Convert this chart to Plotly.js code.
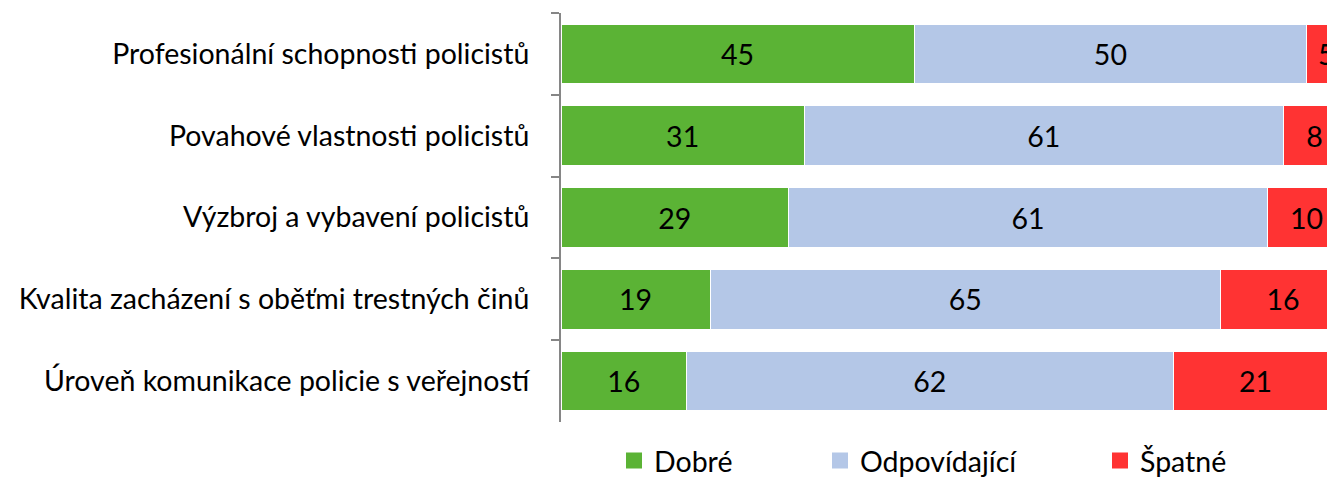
<!DOCTYPE html>
<html>
<head>
<meta charset="utf-8">
<script src="https://cdn.plot.ly/plotly-3.0.1.min.js"></script>
<style>html,body{margin:0;padding:0;background:#fff;}#chart{width:1327px;height:479px;}</style>
</head>
<body>
<div id="chart"></div>
<script>
const categories = [
  "Profesionální schopnosti policistů",
  "Povahové vlastnosti policistů",
  "Výzbroj a vybavení policistů",
  "Kvalita zacházení s oběťmi trestných činů",
  "Úroveň komunikace policie s veřejností"
];
const seriesNames = ["Dobré", "Odpovídající", "Špatné"];
const dobre = [45, 31, 29, 19, 16];
const odpovidajici = [50, 61, 61, 65, 62];
const spatne = [5, 8, 10, 16, 21];
const seriesValues = [dobre, odpovidajici, spatne];
const colors = ["#5BB335", "#B4C7E7", "#FF3333"];
const legendKeys = ["legend", "legend2", "legend3"];

const FONT = "Lato, 'Open Sans', sans-serif";
const FS = 28.5;

const barTraces = seriesValues.map((vals, i) => ({
  type: "bar",
  orientation: "h",
  name: seriesNames[i],
  y: categories,
  x: vals,
  text: vals.map(String),
  textposition: "inside",
  insidetextanchor: "middle",
  constraintext: "none",
  textangle: 0,
  textfont: {family: FONT, size: FS, color: "#000"},
  marker: {color: colors[i], line: {color: "#ffffff", width: 1}},
  showlegend: false,
  hoverinfo: "none"
}));

// legend-only entries (larger square swatches than the bar legend icon)
const legendTraces = seriesNames.map((nm, i) => ({
  type: "scatter", mode: "markers", name: nm,
  x: [null], y: [null],
  marker: {symbol: "square", size: 16, color: colors[i]},
  legend: legendKeys[i], showlegend: true, hoverinfo: "none"
}));

const legendBase = {
  orientation: "h", yanchor: "middle", xanchor: "left",
  yref: "container", y: (479 - 461) / 479,
  font: {family: FONT, size: FS, color: "#000"},
  bgcolor: "rgba(0,0,0,0)", itemwidth: 30, borderwidth: 0, itemsizing: "trace"
};
const legendCenters = [636, 842, 1122];
function lx(px){ return (px - 22 - 561) / (1327 - 561); }

const layout = {
  width: 1327, height: 479,
  margin: {l: 561, r: 0, t: 13, b: 57, pad: 0},
  paper_bgcolor: "#fff", plot_bgcolor: "#fff",
  barmode: "stack",
  bargap: 0.27,
  showlegend: true,
  legend: Object.assign({}, legendBase, {x: lx(legendCenters[0])}),
  legend2: Object.assign({}, legendBase, {x: lx(legendCenters[1])}),
  legend3: Object.assign({}, legendBase, {x: lx(legendCenters[2])}),
  xaxis: {
    range: [0, 97.6], showgrid: false, zeroline: false, showline: false,
    showticklabels: false, ticks: "", fixedrange: true
  },
  yaxis: {
    type: "category", autorange: "reversed",
    showline: true, linecolor: "#868686", linewidth: 2,
    ticks: "outside", tickson: "boundaries", ticklen: 8, tickcolor: "#868686", tickwidth: 2,
    ticklabelstandoff: 24,
    tickfont: {family: FONT, size: FS, color: "#000"},
    showgrid: false, zeroline: false, fixedrange: true
  }
};

Plotly.newPlot("chart", barTraces.concat(legendTraces), layout, {displayModeBar: false, staticPlot: true});
</script>
</body>
</html>
